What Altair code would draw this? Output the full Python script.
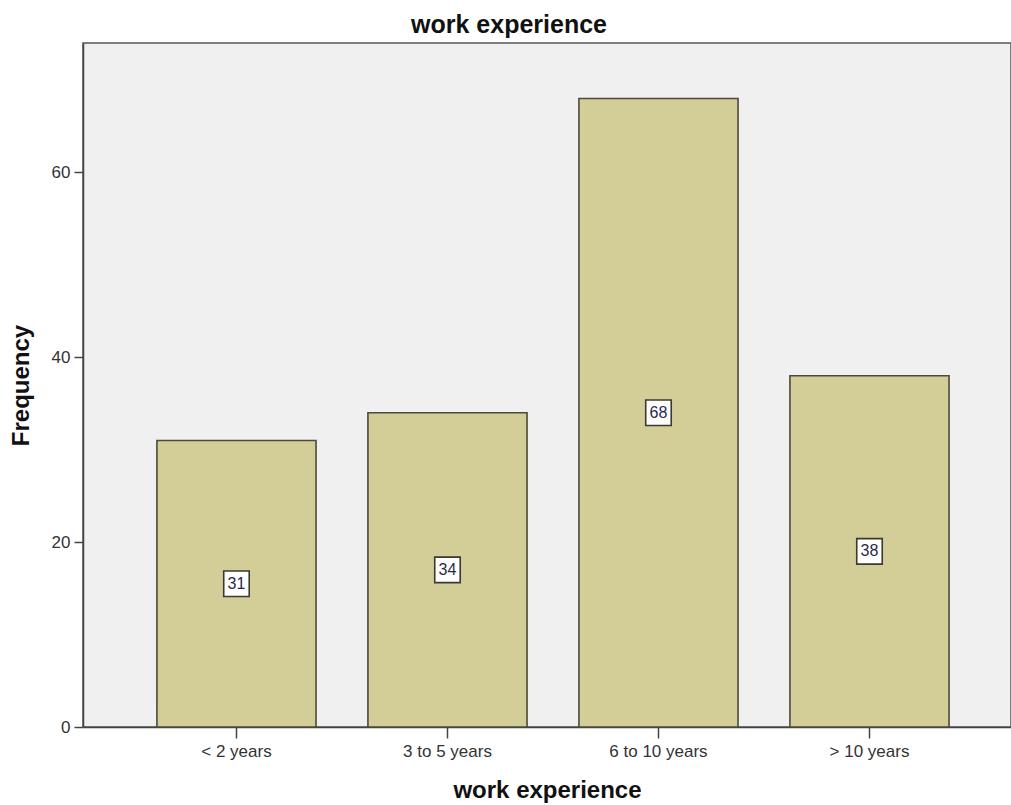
import altair as alt
import pandas as pd

# Work experience frequencies
categories = ["< 2 years", "3 to 5 years", "6 to 10 years", "> 10 years"]
counts = [31, 34, 68, 38]

df = pd.DataFrame({"experience": categories, "count": counts})
df["mid"] = df["count"] / 2

x_enc = alt.X(
    "experience:N",
    sort=categories,
    title="work experience",
    scale=alt.Scale(paddingInner=0.246, paddingOuter=0.322, align=0.544),
    axis=alt.Axis(
        labelAngle=0, tickSize=11, labelPadding=5, titlePadding=19,
        labelFontSize=17, titleFontSize=24, titleFontWeight="bold",
    ),
)

bars = alt.Chart(df).mark_bar(
    color="#d3ce97", stroke="#4b4a3c", strokeWidth=1.6
).encode(
    x=x_enc,
    y=alt.Y(
        "count:Q",
        title="Frequency",
        scale=alt.Scale(domain=[0, 74], nice=False),
        axis=alt.Axis(
            values=[0, 20, 40, 60], grid=False, tickSize=9, labelPadding=4,
            titlePadding=18, labelFontSize=17, titleFontSize=24,
            titleFontWeight="bold",
        ),
    ),
)

boxes = alt.Chart(df).mark_point(
    shape="square", size=650, filled=True, fill="white",
    stroke="#3a3a30", strokeWidth=1.6, opacity=1,
).encode(
    x=alt.X("experience:N", sort=categories),
    y=alt.Y("mid:Q"),
)

labels = alt.Chart(df).mark_text(
    fontSize=16, color="#2a2a4a", font="Liberation Sans"
).encode(
    x=alt.X("experience:N", sort=categories),
    y=alt.Y("mid:Q"),
    text=alt.Text("count:Q"),
)

chart = (
    alt.layer(bars, boxes, labels)
    .properties(
        width=928,
        height=684,
        autosize=alt.AutoSizeParams(type="none"),
        padding={"left": 83, "top": 43, "right": 0, "bottom": 78},
        title=alt.TitleParams(
            "work experience", fontSize=25, fontWeight="bold",
            font="Liberation Sans", color="#111", dx=-38, offset=5,
        ),
    )
    .configure(font="Liberation Sans", background="white")
    .configure_view(fill="#f0f0f0", stroke="#555555", strokeWidth=1.5)
    .configure_axis(
        domainColor="#444444", tickColor="#444444", domainWidth=1.5,
        tickWidth=1.5, labelColor="#333333", titleColor="#111111",
        labelFont="Liberation Sans", titleFont="Liberation Sans",
    )
)

chart.save("out.html", embed_options={"renderer": "svg", "actions": False})
